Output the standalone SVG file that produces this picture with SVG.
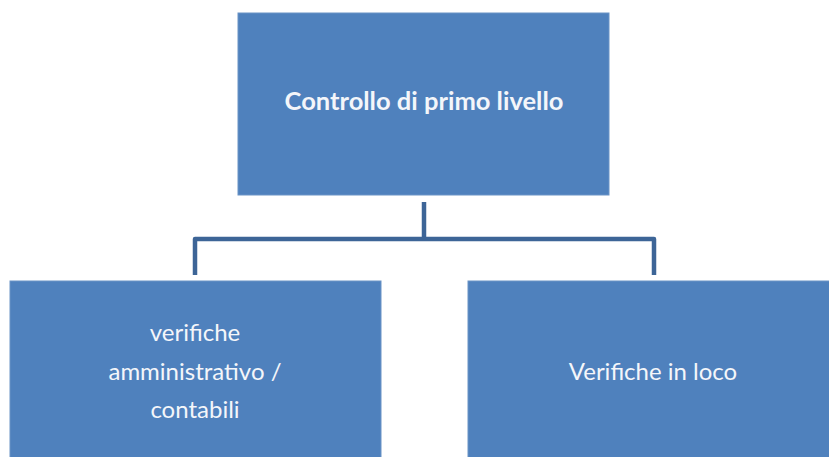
<svg xmlns="http://www.w3.org/2000/svg" width="829" height="457" viewBox="0 0 829 457">
<style>
.box{fill:#4f81bd;stroke:#6a93c6;stroke-width:1}
.t{font-family:Lato,"Open Sans","Liberation Sans",sans-serif;fill:#f4f6fa;text-anchor:middle;font-size:24px}
.b{font-weight:bold;font-size:25.5px}
.conn{fill:none;stroke:#3d6597;stroke-width:4.5;stroke-linejoin:round}
</style>
<rect width="829" height="457" fill="#ffffff"/>
<g id="connectors">
<path class="conn" d="M424 202 V239"/>
<path class="conn" d="M195 275 V239 H654 V275"/>
</g>
<g id="node-top">
<rect class="box" x="238" y="13" width="371" height="182"/>
<text class="t b" x="424" y="110">Controllo di primo livello</text>
</g>
<g id="node-left">
<rect class="box" x="10" y="281" width="371" height="190"/>
<text class="t" x="195" y="341">verifiche</text>
<text class="t" x="195" y="380">amministrativo /</text>
<text class="t" x="195" y="418">contabili</text>
</g>
<g id="node-right">
<rect class="box" x="468" y="281" width="371" height="190"/>
<text class="t" x="653" y="380">Verifiche in loco</text>
</g>
</svg>
